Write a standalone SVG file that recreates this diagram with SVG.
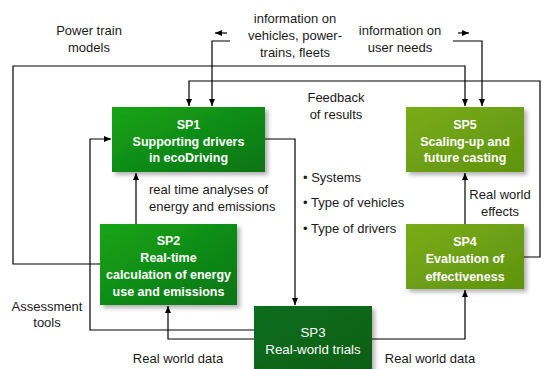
<svg xmlns="http://www.w3.org/2000/svg" width="545" height="369" viewBox="0 0 545 369">
<style>
.t{font-family:"Liberation Sans",Arial,sans-serif;font-size:13px;fill:#1a1a1a}
.c{text-anchor:middle}
.b{font-family:"Liberation Sans",Arial,sans-serif;font-size:12.5px;font-weight:bold;fill:#fff;text-anchor:middle}
.r{font-family:"Liberation Sans",Arial,sans-serif;font-size:13.3px;fill:#fff;text-anchor:middle}
.ln{fill:none;stroke:#000;stroke-width:1.2}
</style>
<defs>
<linearGradient id="g1" x1="0" y1="0" x2="1" y2="1"><stop offset="0" stop-color="#16a516"/><stop offset="1" stop-color="#0a7414"/></linearGradient>
<linearGradient id="g2" x1="0" y1="0" x2="1" y2="1"><stop offset="0" stop-color="#7aac1a"/><stop offset="1" stop-color="#5f930e"/></linearGradient>
<linearGradient id="g3" x1="0" y1="0" x2="1" y2="1"><stop offset="0" stop-color="#0c6e1c"/><stop offset="1" stop-color="#0a5e17"/></linearGradient>
<filter id="sh" x="-10%" y="-10%" width="130%" height="140%"><feDropShadow dx="3" dy="3" stdDeviation="2" flood-color="#000" flood-opacity="0.3"/></filter>
<marker id="ah" markerWidth="7" markerHeight="6" refX="7" refY="3" orient="auto" markerUnits="userSpaceOnUse"><path d="M0,0 L7,3 L0,6 Z" fill="#000"/></marker>
</defs>
<rect width="545" height="369" fill="#fff"/>
<g id="connectors">
<path class="ln" d="M100,264 H13 V66 H465 V106" marker-end="url(#ah)"/>
<path class="ln" d="M524,257 H540 V81 H189 V106" marker-end="url(#ah)"/>
<path class="ln" d="M230,41 H212 V106" marker-end="url(#ah)"/>
<path class="ln" d="M227,33 H215" marker-end="url(#ah)"/>
<path class="ln" d="M453,41 H482 V106" marker-end="url(#ah)"/>
<path class="ln" d="M458,33 H469" marker-end="url(#ah)"/>
<path class="ln" d="M254,330 H90 V139 H111" marker-end="url(#ah)"/>
<path class="ln" d="M254,339 H168 V306" marker-end="url(#ah)"/>
<path class="ln" d="M372,339 H465 V290" marker-end="url(#ah)"/>
<path class="ln" d="M136,224 V173" marker-end="url(#ah)"/>
<path class="ln" d="M265,139 H295 V305" marker-end="url(#ah)"/>
<path class="ln" d="M465,224 V173" marker-end="url(#ah)"/>
</g>
<g id="sp1"><rect x="112" y="107" width="153" height="65" fill="url(#g1)" filter="url(#sh)"/>
<text class="b" x="188.5" y="129">SP1</text><text class="b" x="188.5" y="146">Supporting drivers</text><text class="b" x="188.5" y="162">in ecoDriving</text></g>
<g id="sp5"><rect x="406" y="107" width="118" height="65" fill="url(#g2)" filter="url(#sh)"/>
<text class="b" x="465" y="129">SP5</text><text class="b" x="465" y="146">Scaling-up and</text><text class="b" x="465" y="162">future casting</text></g>
<g id="sp2"><rect x="100" y="224" width="137" height="81" fill="url(#g1)" filter="url(#sh)"/>
<text class="b" x="168.5" y="245">SP2</text><text class="b" x="168.5" y="262">Real-time</text><text class="b" x="168.5" y="279">calculation of energy</text><text class="b" x="168.5" y="296">use and emissions</text></g>
<g id="sp4"><rect x="406" y="224" width="118" height="65" fill="url(#g2)" filter="url(#sh)"/>
<text class="b" x="465" y="246">SP4</text><text class="b" x="465" y="263">Evaluation of</text><text class="b" x="465" y="281">effectiveness</text></g>
<g id="sp3"><rect x="254" y="306" width="118" height="66" fill="url(#g3)" filter="url(#sh)"/>
<text class="r" x="313" y="337">SP3</text><text class="r" x="313" y="354">Real-world trials</text></g>
<g id="labels">
<text class="t c" x="89" y="35">Power train</text><text class="t c" x="89" y="52">models</text>
<text class="t c" x="295" y="23">information on</text><text class="t c" x="295" y="40">vehicles, power-</text><text class="t c" x="295" y="57">trains, fleets</text>
<text class="t c" x="400" y="35">information on</text><text class="t c" x="400" y="52">user needs</text>
<text class="t c" x="336" y="102">Feedback</text><text class="t c" x="336" y="119">of results</text>
<text class="t" x="149" y="194">real time analyses of</text><text class="t" x="149" y="211">energy and emissions</text>
<text class="t" x="303" y="182">• Systems</text><text class="t" x="303" y="207">• Type of vehicles</text><text class="t" x="303" y="233">• Type of drivers</text>
<text class="t c" x="500" y="199">Real world</text><text class="t c" x="500" y="216">effects</text>
<text class="t c" x="47" y="311">Assessment</text><text class="t c" x="47" y="327">tools</text>
<text class="t c" x="178" y="363">Real world data</text><text class="t c" x="430" y="363">Real world data</text>
</g>
</svg>
